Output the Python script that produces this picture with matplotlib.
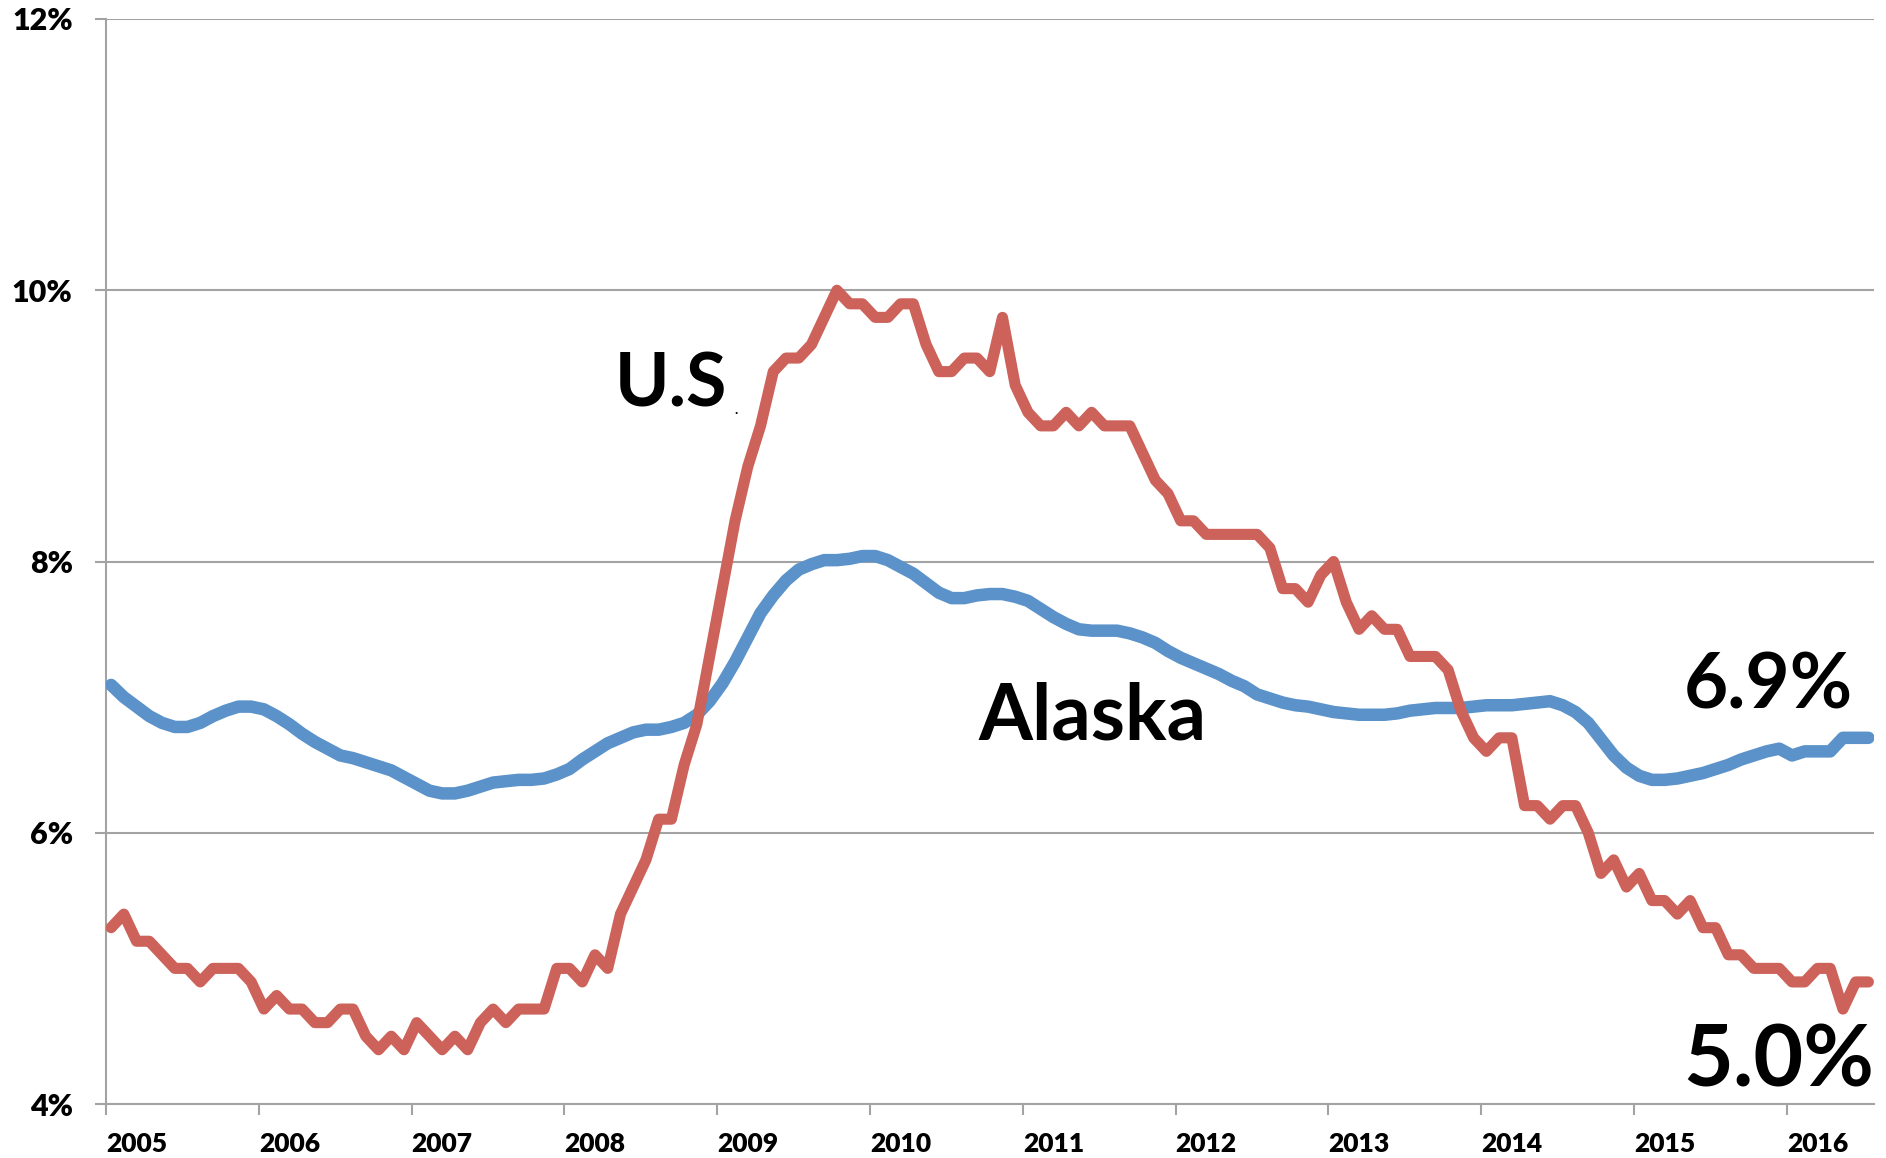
from __future__ import annotations

import matplotlib.pyplot as plt
from matplotlib.ticker import FixedLocator, FuncFormatter, NullFormatter
import numpy as np


START_YEAR = 2005
YEARS = list(range(2005, 2017))
Y_TICKS = [4, 6, 8, 10, 12]

# monthly, Jan 2005 .. Jul 2016
US_RATE = [
    5.3, 5.4, 5.2, 5.2, 5.1, 5.0, 5.0, 4.9, 5.0, 5.0, 5.0, 4.9,
    4.7, 4.8, 4.7, 4.7, 4.6, 4.6, 4.7, 4.7, 4.5, 4.4, 4.5, 4.4,
    4.6, 4.5, 4.4, 4.5, 4.4, 4.6, 4.7, 4.6, 4.7, 4.7, 4.7, 5.0,
    5.0, 4.9, 5.1, 5.0, 5.4, 5.6, 5.8, 6.1, 6.1, 6.5, 6.8, 7.3,
    7.8, 8.3, 8.7, 9.0, 9.4, 9.5, 9.5, 9.6, 9.8, 10.0, 9.9, 9.9,
    9.8, 9.8, 9.9, 9.9, 9.6, 9.4, 9.4, 9.5, 9.5, 9.4, 9.8, 9.3,
    9.1, 9.0, 9.0, 9.1, 9.0, 9.1, 9.0, 9.0, 9.0, 8.8, 8.6, 8.5,
    8.3, 8.3, 8.2, 8.2, 8.2, 8.2, 8.2, 8.1, 7.8, 7.8, 7.7, 7.9,
    8.0, 7.7, 7.5, 7.6, 7.5, 7.5, 7.3, 7.3, 7.3, 7.2, 6.9, 6.7,
    6.6, 6.7, 6.7, 6.2, 6.2, 6.1, 6.2, 6.2, 6.0, 5.7, 5.8, 5.6,
    5.7, 5.5, 5.5, 5.4, 5.5, 5.3, 5.3, 5.1, 5.1, 5.0, 5.0, 5.0,
    4.9, 4.9, 5.0, 5.0, 4.7, 4.9, 4.9,
]

ALASKA_RATE = [
    7.09, 7.00, 6.93, 6.86, 6.81, 6.78, 6.78, 6.81, 6.86, 6.90, 6.93, 6.93,
    6.91, 6.86, 6.80, 6.73, 6.67, 6.62, 6.57, 6.55, 6.52, 6.49, 6.46, 6.41,
    6.36, 6.31, 6.29, 6.29, 6.31, 6.34, 6.37, 6.38, 6.39, 6.39, 6.40, 6.43,
    6.47, 6.54, 6.60, 6.66, 6.70, 6.74, 6.76, 6.76, 6.78, 6.81, 6.87, 6.97,
    7.10, 7.26, 7.44, 7.62, 7.75, 7.86, 7.94, 7.98, 8.01, 8.01, 8.02, 8.04,
    8.04, 8.01, 7.96, 7.91, 7.84, 7.77, 7.73, 7.73, 7.75, 7.76, 7.76, 7.74,
    7.71, 7.65, 7.59, 7.54, 7.50, 7.49, 7.49, 7.49, 7.47, 7.44, 7.40, 7.34,
    7.29, 7.25, 7.21, 7.17, 7.12, 7.08, 7.02, 6.99, 6.96, 6.94, 6.93, 6.91,
    6.89, 6.88, 6.87, 6.87, 6.87, 6.88, 6.90, 6.91, 6.92, 6.92, 6.92, 6.93,
    6.94, 6.94, 6.94, 6.95, 6.96, 6.97, 6.94, 6.89, 6.81, 6.69, 6.57, 6.48,
    6.42, 6.39, 6.39, 6.40, 6.42, 6.44, 6.47, 6.50, 6.54, 6.57, 6.60, 6.62,
    6.57, 6.60, 6.60, 6.60, 6.70, 6.70, 6.70,
]

US_COLOR = "#cc625a"
ALASKA_COLOR = "#5b92c9"
GRID_COLOR = "#a3a3a3"
FONT = "Lato"


def month_positions(n: int) -> np.ndarray:
    return START_YEAR + (np.arange(n) + 0.4) / 12


def main() -> None:
    plt.rcParams["font.family"] = [FONT, "DejaVu Sans"]
    fig = plt.figure(figsize=(18.86, 11.58), dpi=100)
    ax = fig.add_axes([106 / 1886, 1 - 1104 / 1158, (1874 - 106) / 1886, (1104 - 19) / 1158])

    ax.plot(month_positions(len(ALASKA_RATE)), ALASKA_RATE, color=ALASKA_COLOR, lw=9,
            solid_capstyle="round", solid_joinstyle="round", zorder=3)
    ax.plot(month_positions(len(US_RATE)), US_RATE, color=US_COLOR, lw=8,
            solid_capstyle="round", solid_joinstyle="round", zorder=4)

    ax.set_xlim(START_YEAR, START_YEAR + 11.57)
    ax.set_ylim(4, 12)

    ax.set_yticks(Y_TICKS)
    ax.set_yticklabels([f"{v}%" for v in Y_TICKS])
    ax.grid(axis="y", color=GRID_COLOR, lw=1.5, zorder=1)
    ax.tick_params(axis="y", length=8, width=1.5, color=GRID_COLOR, pad=16, labelsize=22)

    ax.xaxis.set_major_locator(FixedLocator(YEARS))
    ax.xaxis.set_major_formatter(NullFormatter())
    ax.xaxis.set_minor_locator(FixedLocator([y + 0.2 for y in YEARS]))
    ax.xaxis.set_minor_formatter(FuncFormatter(lambda v, _: f"{int(round(v - 0.2))}"))
    ax.tick_params(axis="x", which="major", length=8, width=1.5, color=GRID_COLOR)
    ax.tick_params(axis="x", which="minor", length=0, pad=20, labelsize=19)

    for label in ax.get_xticklabels(minor=True) + ax.get_yticklabels():
        label.set_fontweight("heavy")

    for side in ("top", "right"):
        ax.spines[side].set_visible(False)
    for side in ("left", "bottom"):
        ax.spines[side].set_color(GRID_COLOR)
        ax.spines[side].set_linewidth(1.5)

    bold = dict(fontweight="bold", ha="center", va="center", color="black")
    ax.text(0.3194, 1 - 385 / 1085 + 19 / 1085, "U.S", transform=ax.transAxes, fontsize=53, **bold)
    ax.text(0.3194 + 0.037, 1 - 410 / 1085 + 19 / 1085, ".", transform=ax.transAxes, fontsize=10, **bold)
    ax.text(0.558, 1 - 718 / 1085 + 19 / 1085, "Alaska", transform=ax.transAxes, fontsize=56, **bold)
    ax.text(0.94, 1 - 687 / 1085 + 19 / 1085, "6.9%", transform=ax.transAxes, fontsize=55, **bold)
    ax.text(0.946, 1 - 1062 / 1085 + 19 / 1085, "5.0%", transform=ax.transAxes, fontsize=62, **bold)

    fig.savefig("out.png", dpi=100)
    plt.close(fig)


if __name__ == "__main__":
    main()
